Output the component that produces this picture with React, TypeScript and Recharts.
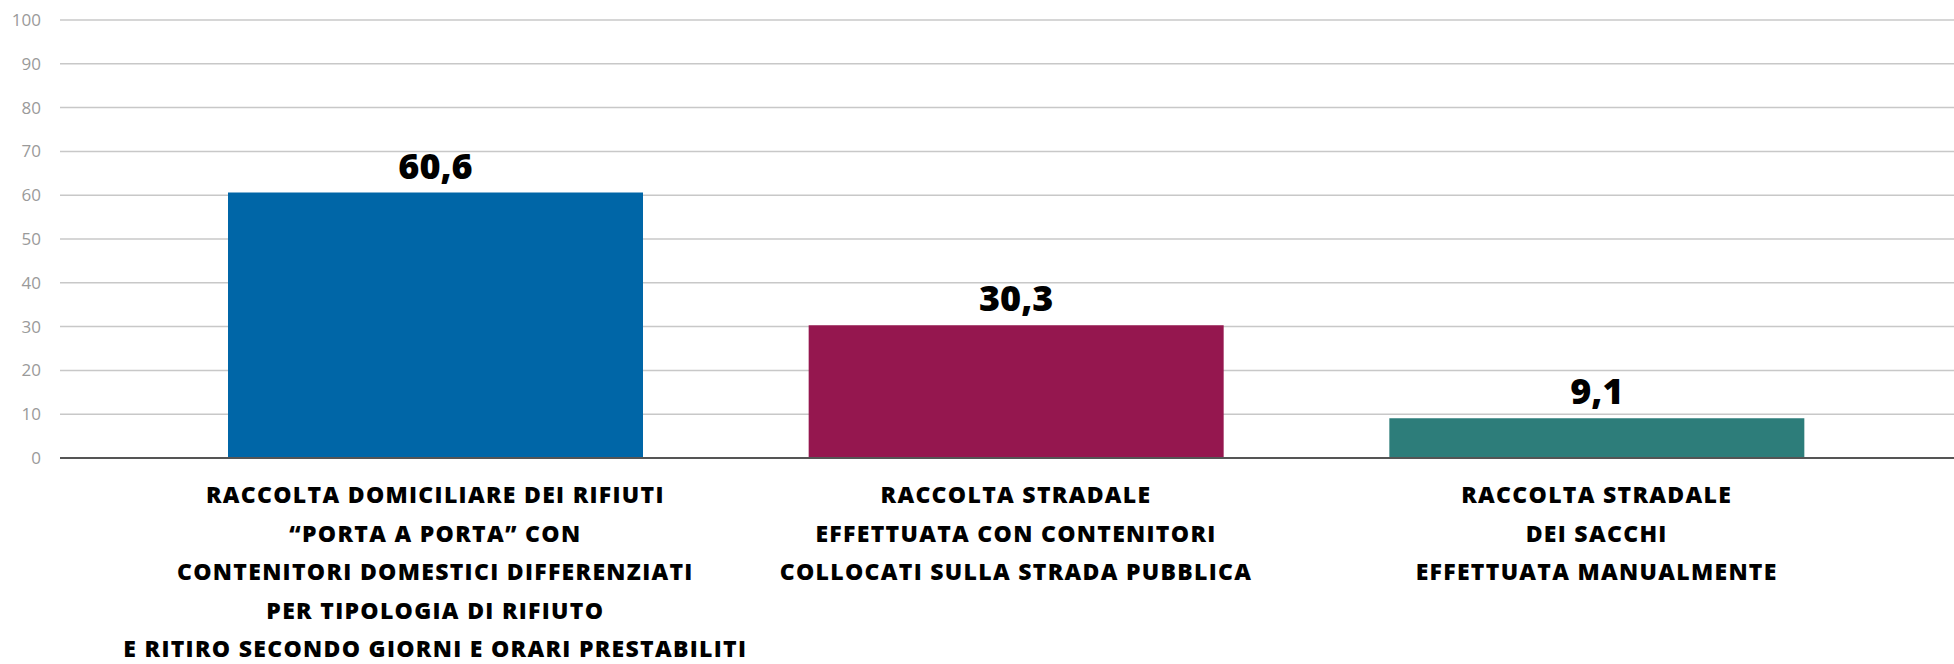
import React from "react";
import { BarChart, Bar, Cell, XAxis, YAxis, CartesianGrid, LabelList } from "recharts";

const categories = ["porta", "stradale", "sacchi"];

const categoryLines = [
  [
    "RACCOLTA DOMICILIARE DEI RIFIUTI",
    "\u201CPORTA A PORTA\u201D CON",
    "CONTENITORI DOMESTICI DIFFERENZIATI",
    "PER TIPOLOGIA DI RIFIUTO",
    "E RITIRO SECONDO GIORNI E ORARI PRESTABILITI",
  ],
  ["RACCOLTA STRADALE", "EFFETTUATA CON CONTENITORI", "COLLOCATI SULLA STRADA PUBBLICA"],
  ["RACCOLTA STRADALE", "DEI SACCHI", "EFFETTUATA MANUALMENTE"],
];

const values = [60.6, 30.3, 9.1];

const yTicks = [0, 10, 20, 30, 40, 50, 60, 70, 80, 90, 100];

const COLORS = ["#0066a7", "#95174f", "#2d7d7a"];

const data = categories.map((name, i) => ({ name, value: values[i] }));

const formatValue = (v: number) => v.toFixed(1).replace(".", ",");

const CategoryTick = (props: any) => {
  const { x, y, index } = props;
  const lines = categoryLines[index] || [];
  return (
    <text
      x={x}
      y={y}
      textAnchor="middle"
      fill="#000"
      style={{ fontFamily: "'Open Sans', sans-serif", fontWeight: 800, fontSize: 23, letterSpacing: 1.3 }}
    >
      {lines.map((line, i) => (
        <tspan key={i} x={x} dy={i === 0 ? 45 : 38.6}>
          {line}
        </tspan>
      ))}
    </text>
  );
};

export default function App() {
  return (
    <div style={{ position: "absolute", left: 0, top: 0, background: "#fff" }}>
      <BarChart width={1954} height={664} data={data} margin={{ top: 20, right: 0, left: 0, bottom: 0 }}>
        <CartesianGrid vertical={false} stroke="#c8c8c8" strokeWidth={1.5} />
        <XAxis
          dataKey="name"
          height={206}
          interval={0}
          padding={{ left: 85, right: 67 }}
          axisLine={{ stroke: "#555", strokeWidth: 2 }}
          tickLine={false}
          tickSize={0}
          tickMargin={0}
          tick={<CategoryTick />}
        />
        <YAxis
          width={60}
          domain={[0, 100]}
          ticks={yTicks}
          axisLine={false}
          tickLine={false}
          tickSize={0}
          tickMargin={19}
          tick={{ fill: "#9a9a9a", fontSize: 17, fontFamily: "'Open Sans', sans-serif" }}
        />
        <Bar dataKey="value" barSize={415} isAnimationActive={false}>
          {data.map((d, i) => (
            <Cell key={d.name} fill={COLORS[i]} />
          ))}
          <LabelList
            dataKey="value"
            position="top"
            offset={14}
            formatter={(v: any) => formatValue(Number(v))}
            style={{ fontFamily: "'Open Sans', sans-serif", fontWeight: 800, fontSize: 36, fill: "#000" }}
          />
        </Bar>
      </BarChart>
    </div>
  );
}
